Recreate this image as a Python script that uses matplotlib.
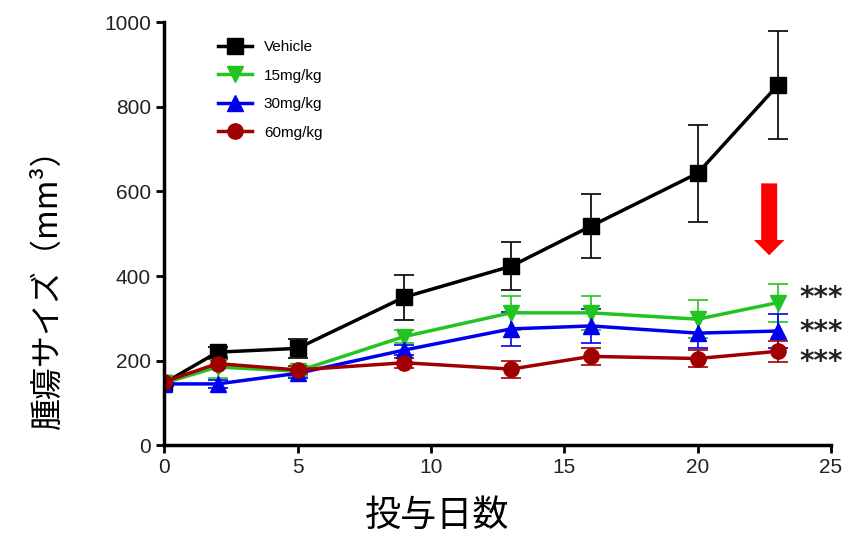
import matplotlib
matplotlib.use("Agg")
import matplotlib.pyplot as plt
from matplotlib.lines import Line2D

plt.rcParams['font.family'] = ['Liberation Sans', 'Noto Sans CJK JP', 'DejaVu Sans']

days = [0, 2, 5, 9, 13, 16, 20, 23]

vehicle = [147, 220, 229, 350, 423, 518, 643, 851]
vehicle_err = [8, 12, 22, 53, 57, 75, 115, 128]

mg15 = [147, 185, 175, 257, 313, 313, 298, 337]
mg15_err = [8, 25, 12, 15, 40, 40, 45, 45]

mg30 = [145, 145, 170, 225, 275, 282, 265, 270]
mg30_err = [6, 10, 10, 12, 40, 40, 35, 40]

mg60 = [150, 193, 178, 195, 180, 210, 205, 222]
mg60_err = [6, 10, 10, 12, 20, 20, 20, 25]

star_y = [348, 268, 196]

fig = plt.figure(figsize=(8.55, 5.41), dpi=100)
ax = fig.add_axes([0.192, 0.177, 0.78, 0.782])

series = [
    ("Vehicle", vehicle, vehicle_err, "black", "s"),
    ("15mg/kg", mg15, mg15_err, "#22c422", "v"),
    ("30mg/kg", mg30, mg30_err, "#0000ee", "^"),
    ("60mg/kg", mg60, mg60_err, "#a00000", "o"),
]
handles = []
for name, vals, err, col, mk in series:
    ax.errorbar(days, vals, yerr=err, color=col, marker=mk, markersize=11,
                linewidth=2.5, elinewidth=1.2, capsize=7, capthick=1.2)
    handles.append(Line2D([], [], color=col, marker=mk, markersize=11,
                          linewidth=2.5, label=name))

ax.set_xlim(0, 25)
ax.set_ylim(0, 1000)
ax.set_xticks([0, 5, 10, 15, 20, 25])
ax.set_yticks([0, 200, 400, 600, 800, 1000])
ax.tick_params(labelsize=15, width=2, length=6, labelcolor='#222222')
for s in ['top', 'right']:
    ax.spines[s].set_visible(False)
for s in ['left', 'bottom']:
    ax.spines[s].set_linewidth(2.5)

ax.set_xlabel("投与日数", fontsize=26, family=['Noto Sans CJK JP', 'DejaVu Sans'])
ax.xaxis.set_label_coords(0.41, -0.125)
ax.set_ylabel("腫瘍サイズ（mm³）", fontsize=23, family=['Noto Sans CJK JP', 'DejaVu Sans'])
ax.yaxis.set_label_coords(-0.15, 0.39)

ax.legend(handles=handles, loc='upper left', bbox_to_anchor=(0.06, 0.99),
          frameon=False, fontsize=11, handlelength=2.2, labelspacing=0.95)

for yv in star_y:
    ax.text(23.8, yv, "***", fontsize=20, va='center', ha='left',
            family='DejaVu Sans', fontweight='bold', color='#222222')

ax.annotate("", xy=(22.68, 449), xytext=(22.68, 619),
            arrowprops=dict(arrowstyle="simple,head_width=2.2,head_length=1.1,tail_width=1.15",
                            mutation_scale=10, color="red", lw=0,
                            shrinkA=0, shrinkB=0))

fig.savefig("out.png", dpi=100)
